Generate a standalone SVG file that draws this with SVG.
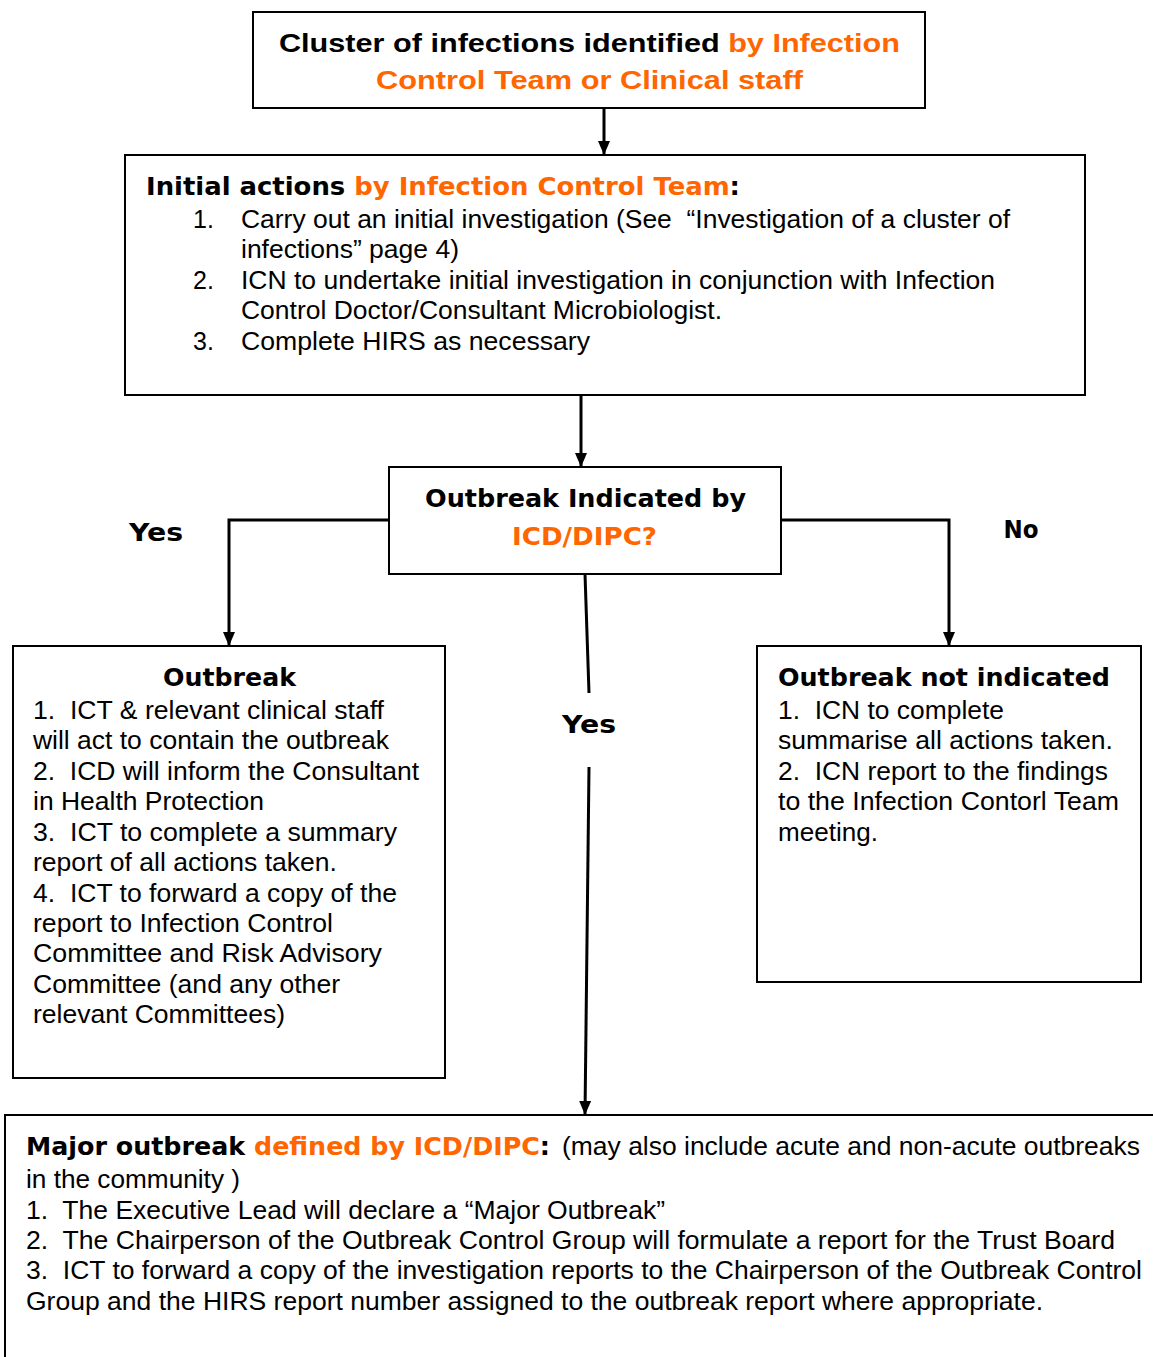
<svg xmlns="http://www.w3.org/2000/svg" width="1153" height="1357" viewBox="0 0 1153 1357">
<defs>
<marker id="arr" markerWidth="14" markerHeight="14" refX="14" refY="7" orient="auto" markerUnits="userSpaceOnUse" viewBox="0 0 14 14">
<path d="M0,1 L14,7 L0,13 Z" fill="#000"/>
</marker>
<style>
text{white-space:pre}
.box{fill:#fff;stroke:#000;stroke-width:2}
.con{fill:none;stroke:#000;stroke-width:3}
.b1{font-family:"Liberation Sans",Arial,sans-serif;font-weight:bold;font-size:26px;fill:#000}
.bv{font-family:"DejaVu Sans",Verdana,sans-serif;font-weight:bold;font-size:24px;fill:#000}
.lb{font-size:24px}
.t{font-family:"Liberation Sans",Arial,sans-serif;font-size:25px;fill:#000}
.o{fill:#FF6600}
</style>
</defs>
<rect width="1153" height="1357" fill="#fff"/>
<g id="connectors">
<path class="con" d="M604,108 V155" marker-end="url(#arr)"/>
<path class="con" d="M581,395 V467" marker-end="url(#arr)"/>
<path class="con" d="M389,520 H229 V646" marker-end="url(#arr)"/>
<path class="con" d="M781,520 H949 V646" marker-end="url(#arr)"/>
<path class="con" d="M585,574 L589,693"/>
<path class="con" d="M589,767 L585,1115" marker-end="url(#arr)"/>
<text class="bv lb" x="156" y="541" text-anchor="middle" textLength="54" lengthAdjust="spacingAndGlyphs">Yes</text>
<text class="bv lb" x="1021" y="538" text-anchor="middle" textLength="35" lengthAdjust="spacingAndGlyphs">No</text>
<text class="bv lb" x="589" y="733" text-anchor="middle" textLength="54" lengthAdjust="spacingAndGlyphs">Yes</text>
</g>
<g id="n_cluster">
<rect class="box" x="253" y="12" width="672" height="96"/>
<text class="b1" x="279" y="52" textLength="621" lengthAdjust="spacingAndGlyphs">Cluster of infections identified <tspan class="o">by Infection</tspan></text>
<text class="b1 o" x="376" y="89" textLength="427" lengthAdjust="spacingAndGlyphs">Control Team or Clinical staff</text>
</g>
<g id="n_initial">
<rect class="box" x="125" y="155" width="960" height="240"/>
<text class="bv" x="146" y="195" textLength="594" lengthAdjust="spacingAndGlyphs">Initial actions <tspan class="o">by Infection Control Team</tspan>:</text>
<text class="t" x="193" y="228">1.</text>
<text class="t" x="241" y="228" textLength="769" lengthAdjust="spacingAndGlyphs">Carry out an initial investigation (See  “Investigation of a cluster of</text>
<text class="t" x="241" y="258" textLength="218" lengthAdjust="spacingAndGlyphs">infections” page 4)</text>
<text class="t" x="193" y="289">2.</text>
<text class="t" x="241" y="289" textLength="754" lengthAdjust="spacingAndGlyphs">ICN to undertake initial investigation in conjunction with Infection</text>
<text class="t" x="241" y="319" textLength="481" lengthAdjust="spacingAndGlyphs">Control Doctor/Consultant Microbiologist.</text>
<text class="t" x="193" y="350">3.</text>
<text class="t" x="241" y="350" textLength="349" lengthAdjust="spacingAndGlyphs">Complete HIRS as necessary</text>
</g>
<g id="n_decision">
<rect class="box" x="389" y="467" width="392" height="107"/>
<text class="bv" x="425" y="507" textLength="321" lengthAdjust="spacingAndGlyphs">Outbreak Indicated by</text>
<text class="bv o" x="512" y="545" textLength="145" lengthAdjust="spacingAndGlyphs">ICD/DIPC?</text>
</g>
<g id="n_outbreak">
<rect class="box" x="13" y="646" width="432" height="432"/>
<text class="bv" x="163" y="686" textLength="133" lengthAdjust="spacingAndGlyphs">Outbreak</text>
<text class="t" x="33" y="719" textLength="351" lengthAdjust="spacingAndGlyphs">1.  ICT &amp; relevant clinical staff</text>
<text class="t" x="33" y="749" textLength="356" lengthAdjust="spacingAndGlyphs">will act to contain the outbreak</text>
<text class="t" x="33" y="780" textLength="386" lengthAdjust="spacingAndGlyphs">2.  ICD will inform the Consultant</text>
<text class="t" x="33" y="810" textLength="231" lengthAdjust="spacingAndGlyphs">in Health Protection</text>
<text class="t" x="33" y="841" textLength="364" lengthAdjust="spacingAndGlyphs">3.  ICT to complete a summary</text>
<text class="t" x="33" y="871" textLength="304" lengthAdjust="spacingAndGlyphs">report of all actions taken.</text>
<text class="t" x="33" y="902" textLength="364" lengthAdjust="spacingAndGlyphs">4.  ICT to forward a copy of the</text>
<text class="t" x="33" y="932" textLength="300" lengthAdjust="spacingAndGlyphs">report to Infection Control</text>
<text class="t" x="33" y="962" textLength="349" lengthAdjust="spacingAndGlyphs">Committee and Risk Advisory</text>
<text class="t" x="33" y="993" textLength="307" lengthAdjust="spacingAndGlyphs">Committee (and any other</text>
<text class="t" x="33" y="1023" textLength="252" lengthAdjust="spacingAndGlyphs">relevant Committees)</text>
</g>
<g id="n_not_indicated">
<rect class="box" x="757" y="646" width="384" height="336"/>
<text class="bv" x="778" y="686" textLength="332" lengthAdjust="spacingAndGlyphs">Outbreak not indicated</text>
<text class="t" x="778" y="719" textLength="226" lengthAdjust="spacingAndGlyphs">1.  ICN to complete</text>
<text class="t" x="778" y="749" textLength="335" lengthAdjust="spacingAndGlyphs">summarise all actions taken.</text>
<text class="t" x="778" y="780" textLength="330" lengthAdjust="spacingAndGlyphs">2.  ICN report to the findings</text>
<text class="t" x="778" y="810" textLength="341" lengthAdjust="spacingAndGlyphs">to the Infection Contorl Team</text>
<text class="t" x="778" y="841" textLength="100" lengthAdjust="spacingAndGlyphs">meeting.</text>
</g>
<g id="n_major">
<rect class="box" x="5" y="1115" width="1160" height="260"/>
<text class="bv" x="26" y="1155" textLength="524" lengthAdjust="spacingAndGlyphs">Major outbreak <tspan class="o">defined by ICD/DIPC</tspan>:</text>
<text class="t" x="562" y="1155" textLength="578" lengthAdjust="spacingAndGlyphs">(may also include acute and non-acute outbreaks</text>
<text class="t" x="26" y="1188" textLength="214" lengthAdjust="spacingAndGlyphs">in the community )</text>
<text class="t" x="26" y="1219" textLength="639" lengthAdjust="spacingAndGlyphs">1.  The Executive Lead will declare a “Major Outbreak”</text>
<text class="t" x="26" y="1249" textLength="1089" lengthAdjust="spacingAndGlyphs">2.  The Chairperson of the Outbreak Control Group will formulate a report for the Trust Board</text>
<text class="t" x="26" y="1279" textLength="1116" lengthAdjust="spacingAndGlyphs">3.  ICT to forward a copy of the investigation reports to the Chairperson of the Outbreak Control</text>
<text class="t" x="26" y="1310" textLength="1017" lengthAdjust="spacingAndGlyphs">Group and the HIRS report number assigned to the outbreak report where appropriate.</text>
</g>
</svg>
